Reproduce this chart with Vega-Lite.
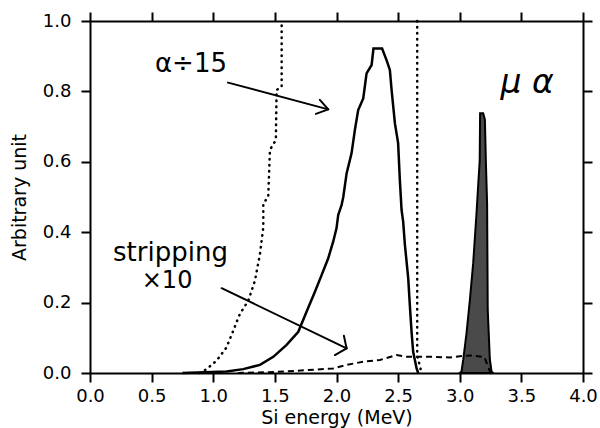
{
  "$schema": "https://vega.github.io/schema/vega-lite/v6.json",
  "width": 493,
  "height": 352,
  "autosize": {"type": "none"},
  "padding": {"left": 90, "top": 21, "right": 17, "bottom": 55},
  "background": "white",
  "config": {
    "view": {"stroke": null},
    "font": "DejaVu Sans",
    "axis": {
      "domainColor": "black", "domainWidth": 2, "tickColor": "black", "tickWidth": 2,
      "tickSize": 9, "grid": false, "labelFont": "DejaVu Sans", "labelFontSize": 18,
      "labelColor": "black", "titleFont": "DejaVu Sans", "titleFontSize": 19,
      "titleFontWeight": "normal", "titleColor": "black", "labelPadding": 5,
      "labelFlush": false, "labelOverlap": false
    }
  },
  "datasets": {
    "alpha": [
      {"x": 0.75, "y": 0}, {"x": 1.108, "y": 0.004}, {"x": 1.243, "y": 0.011}, {"x": 1.379, "y": 0.023},
      {"x": 1.487, "y": 0.046}, {"x": 1.595, "y": 0.08}, {"x": 1.69, "y": 0.117}, {"x": 1.757, "y": 0.174},
      {"x": 1.825, "y": 0.231}, {"x": 1.879, "y": 0.278}, {"x": 1.933, "y": 0.326}, {"x": 1.973, "y": 0.373},
      {"x": 2.0, "y": 0.411}, {"x": 2.014, "y": 0.449}, {"x": 2.041, "y": 0.477}, {"x": 2.055, "y": 0.5},
      {"x": 2.082, "y": 0.567}, {"x": 2.122, "y": 0.624}, {"x": 2.149, "y": 0.69}, {"x": 2.176, "y": 0.747},
      {"x": 2.217, "y": 0.78}, {"x": 2.244, "y": 0.851}, {"x": 2.285, "y": 0.875}, {"x": 2.3, "y": 0.922},
      {"x": 2.37, "y": 0.922}, {"x": 2.406, "y": 0.889}, {"x": 2.433, "y": 0.861}, {"x": 2.447, "y": 0.804},
      {"x": 2.474, "y": 0.709}, {"x": 2.5, "y": 0.653}, {"x": 2.514, "y": 0.548}, {"x": 2.528, "y": 0.463},
      {"x": 2.541, "y": 0.43}, {"x": 2.555, "y": 0.364}, {"x": 2.582, "y": 0.269}, {"x": 2.595, "y": 0.193},
      {"x": 2.609, "y": 0.117}, {"x": 2.622, "y": 0.06}, {"x": 2.65, "y": 0.013}, {"x": 2.663, "y": 0}
    ],
    "dotted1": [
      {"x": 0.89, "y": 0}, {"x": 0.946, "y": 0.011}, {"x": 1.027, "y": 0.035}, {"x": 1.108, "y": 0.073},
      {"x": 1.162, "y": 0.12}, {"x": 1.216, "y": 0.168}, {"x": 1.284, "y": 0.205}, {"x": 1.338, "y": 0.262},
      {"x": 1.379, "y": 0.338}, {"x": 1.406, "y": 0.414}, {"x": 1.406, "y": 0.482}, {"x": 1.446, "y": 0.5},
      {"x": 1.46, "y": 0.634}, {"x": 1.508, "y": 0.662}, {"x": 1.514, "y": 0.804}, {"x": 1.555, "y": 0.813},
      {"x": 1.555, "y": 1.0}
    ],
    "dotted2": [
      {"x": 2.655, "y": 1.0}, {"x": 2.655, "y": 0.05}, {"x": 2.676, "y": 0.02}, {"x": 2.69, "y": 0}
    ],
    "strip": [
      {"x": 1.2, "y": 0}, {"x": 1.5, "y": 0.003}, {"x": 1.757, "y": 0.008}, {"x": 1.973, "y": 0.013},
      {"x": 2.08, "y": 0.023}, {"x": 2.217, "y": 0.032}, {"x": 2.352, "y": 0.037}, {"x": 2.487, "y": 0.051},
      {"x": 2.568, "y": 0.046}, {"x": 2.65, "y": 0.046}, {"x": 2.785, "y": 0.046}, {"x": 2.92, "y": 0.044},
      {"x": 3.028, "y": 0.049}, {"x": 3.1, "y": 0.05}, {"x": 3.2, "y": 0.045}, {"x": 3.25, "y": 0}
    ],
    "mualpha": [
      {"x": 3.0, "y": 0}, {"x": 3.014, "y": 0.004}, {"x": 3.028, "y": 0.037}, {"x": 3.055, "y": 0.113},
      {"x": 3.082, "y": 0.207}, {"x": 3.109, "y": 0.312}, {"x": 3.136, "y": 0.454}, {"x": 3.162, "y": 0.605},
      {"x": 3.165, "y": 0.738}, {"x": 3.19, "y": 0.738}, {"x": 3.204, "y": 0.72}, {"x": 3.212, "y": 0.6},
      {"x": 3.222, "y": 0.48}, {"x": 3.227, "y": 0.18}, {"x": 3.244, "y": 0.04}, {"x": 3.258, "y": 0.004},
      {"x": 3.27, "y": 0}
    ],
    "arrows": [
      {"x": 1.12, "y": 0.825, "x2": 1.933, "y2": 0.749},
      {"x": 1.865, "y": 0.776, "x2": 1.933, "y2": 0.749},
      {"x": 1.833, "y": 0.736, "x2": 1.933, "y2": 0.749},
      {"x": 1.068, "y": 0.241, "x2": 2.082, "y2": 0.07},
      {"x": 2.06, "y": 0.106, "x2": 2.082, "y2": 0.07},
      {"x": 1.987, "y": 0.051, "x2": 2.082, "y2": 0.07}
    ],
    "labels": [
      {"x": 0.527, "y": 0.855, "t": "α÷15", "s": 26},
      {"x": 0.187, "y": 0.319, "t": "stripping", "s": 26},
      {"x": 0.42, "y": 0.241, "t": "×10", "s": 24}
    ],
    "italic": [
      {"x": 3.33, "y": 0.795, "t": "μ α", "s": 33}
    ]
  },
  "layer": [
    {
      "data": {"name": "mualpha"},
      "mark": {"type": "area", "color": "#4a4a4a", "stroke": "black", "strokeWidth": 2},
      "encoding": {
        "x": {"field": "x", "type": "quantitative", "scale": {"domain": [0, 4], "nice": false},
              "title": "Si energy (MeV)",
              "axis": {"orient": "bottom", "values": [0, 0.5, 1, 1.5, 2, 2.5, 3, 3.5, 4], "format": ".1f", "titlePadding": 3}},
        "y": {"field": "y", "type": "quantitative", "stack": null, "scale": {"domain": [0, 1], "nice": false},
              "title": "Arbitrary unit",
              "axis": {"orient": "left", "values": [0, 0.2, 0.4, 0.6, 0.8, 1.0], "format": ".1f", "labelPadding": 10, "titlePadding": 13}}
      }
    },
    {
      "data": {"name": "alpha"},
      "mark": {"type": "line", "color": "black", "strokeWidth": 2.5},
      "encoding": {
        "x": {"field": "x", "type": "quantitative", "title": null,
              "axis": {"orient": "top", "labels": false, "values": [0, 0.5, 1, 1.5, 2, 2.5, 3, 3.5, 4]}},
        "y": {"field": "y", "type": "quantitative", "title": null,
              "axis": {"orient": "right", "labels": false, "values": [0, 0.2, 0.4, 0.6, 0.8, 1.0]}}
      }
    },
    {
      "data": {"name": "dotted1"},
      "mark": {"type": "line", "color": "black", "strokeWidth": 2.5, "strokeDash": [0.5, 5.5], "strokeCap": "round"},
      "encoding": {
        "x": {"field": "x", "type": "quantitative", "axis": null},
        "y": {"field": "y", "type": "quantitative", "axis": null}
      }
    },
    {
      "data": {"name": "dotted2"},
      "mark": {"type": "line", "color": "black", "strokeWidth": 2.5, "strokeDash": [0.5, 5.5], "strokeCap": "round"},
      "encoding": {
        "x": {"field": "x", "type": "quantitative", "axis": null},
        "y": {"field": "y", "type": "quantitative", "axis": null}
      }
    },
    {
      "data": {"name": "strip"},
      "mark": {"type": "line", "color": "black", "strokeWidth": 2, "strokeDash": [6, 4]},
      "encoding": {
        "x": {"field": "x", "type": "quantitative", "axis": null},
        "y": {"field": "y", "type": "quantitative", "axis": null}
      }
    },
    {
      "data": {"name": "arrows"},
      "mark": {"type": "rule", "color": "black", "strokeWidth": 2, "strokeCap": "round"},
      "encoding": {
        "x": {"field": "x", "type": "quantitative", "axis": null},
        "y": {"field": "y", "type": "quantitative", "axis": null},
        "x2": {"field": "x2"},
        "y2": {"field": "y2"}
      }
    },
    {
      "data": {"name": "labels"},
      "mark": {"type": "text", "align": "left", "baseline": "alphabetic", "color": "black", "font": "DejaVu Sans"},
      "encoding": {
        "x": {"field": "x", "type": "quantitative", "axis": null},
        "y": {"field": "y", "type": "quantitative", "axis": null},
        "text": {"field": "t"},
        "size": {"field": "s", "type": "quantitative", "scale": null}
      }
    },
    {
      "data": {"name": "italic"},
      "mark": {"type": "text", "align": "left", "baseline": "alphabetic", "color": "black", "font": "DejaVu Sans", "fontStyle": "italic"},
      "encoding": {
        "x": {"field": "x", "type": "quantitative", "axis": null},
        "y": {"field": "y", "type": "quantitative", "axis": null},
        "text": {"field": "t"},
        "size": {"field": "s", "type": "quantitative", "scale": null}
      }
    }
  ],
  "resolve": {"axis": {"x": "independent", "y": "independent"}}
}
